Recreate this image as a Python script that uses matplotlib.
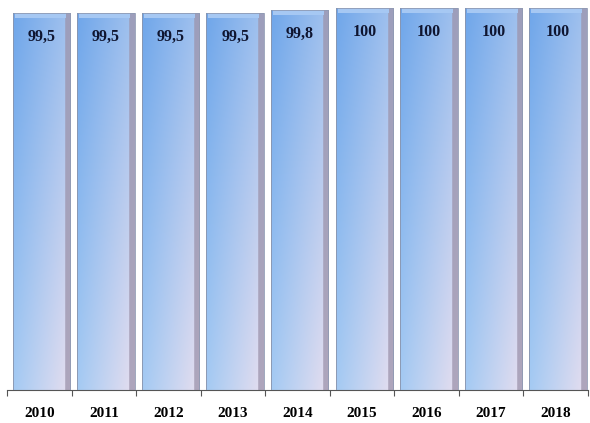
import numpy as np
import matplotlib.pyplot as plt
from matplotlib.patches import Rectangle
from matplotlib.colors import to_rgb

years = ["2010", "2011", "2012", "2013", "2014", "2015", "2016", "2017", "2018"]
values = [99.5, 99.5, 99.5, 99.5, 99.8, 100, 100, 100, 100]
labels = ["99,5", "99,5", "99,5", "99,5", "99,8", "100", "100", "100", "100"]

YMIN = 62

fig = plt.figure(figsize=(5.9, 4.23), dpi=100)
ax = fig.add_axes([7 / 590, 33 / 423, 581 / 590, 382 / 423])

# gradient for the bar face, corner colours
top_l, top_r = np.array(to_rgb("#6fa6ea")), np.array(to_rgb("#a2c2ee"))
bot_l, bot_r = np.array(to_rgb("#a4caf3")), np.array(to_rgb("#e6deef"))
nx, ny = 60, 120
tx = np.linspace(0, 1, nx)[None, :, None]
ty = np.linspace(0, 1, ny)[:, None, None]  # 0 = bottom row
top = top_l + (top_r - top_l) * tx
bot = bot_l + (bot_r - bot_l) * tx
grad = bot + (top - bot) * ty
# darker bevel on the right edge, thin dark line on the left
edge = np.array(to_rgb("#9c93ab"))
grad[:, -6:, :] = edge * 0.75 + grad[:, -6:, :] * 0.25
grad[:, :1, :] = grad[:, :1, :] * 0.8
grad = np.clip(grad, 0, 1)

width = 0.89
shift = 0.035
x = np.arange(len(years))
bars = ax.bar(x + shift, [v - YMIN for v in values], width=width, bottom=YMIN,
              color="none", edgecolor="none")

for b, v, lab in zip(bars, values, labels):
    x0 = b.get_x()
    im = ax.imshow(grad, extent=(x0, x0 + width, YMIN, v), origin="lower",
                   aspect="auto", interpolation="bilinear", zorder=2)
    im.set_clip_path(b)
    # light top bevel
    ax.add_patch(Rectangle((x0 + 0.03, v - 0.45), width - 0.1, 0.45,
                           facecolor="#a6c8f3", edgecolor="none", zorder=3))
    ax.add_patch(Rectangle((x0, YMIN), width, v - YMIN, facecolor="none",
                           edgecolor="#8f9ab3", lw=0.6, zorder=4))
    ax.annotate(lab, (x0 + width / 2, v), xytext=(0, -17), textcoords="offset points",
                ha="center", va="center", fontsize=11.5, fontweight="bold",
                family="Liberation Serif", color="#0f1530", zorder=5)

ax.set_xlim(-0.5, len(years) - 0.5)
ax.set_ylim(YMIN, 100)
ax.set_xticks(np.arange(len(years) + 1) - 0.5, minor=False)
ax.set_xticklabels([""] * (len(years) + 1))
ax.set_xticks(x, minor=True)
ax.set_xticklabels(years, minor=True, fontsize=11, fontweight="bold",
                   family="Liberation Serif")
ax.tick_params(axis="x", which="major", length=4, color="#555555", width=0.8)
ax.tick_params(axis="x", which="minor", length=0, pad=12)
ax.set_yticks([])
for s in ["top", "right", "left"]:
    ax.spines[s].set_visible(False)
ax.spines["bottom"].set_color("#555555")
ax.spines["bottom"].set_linewidth(0.8)

fig.savefig("out.png", dpi=100)
